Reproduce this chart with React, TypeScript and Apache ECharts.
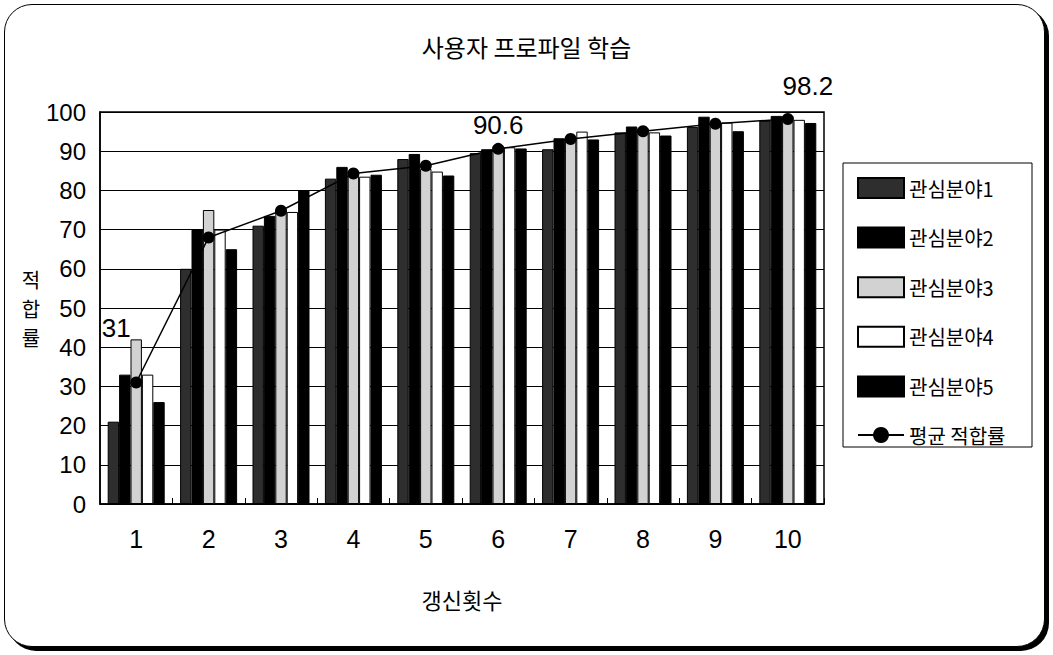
import React, { useEffect, useRef } from "react";
import * as echarts from "echarts";

const categories = ["1", "2", "3", "4", "5", "6", "7", "8", "9", "10"];
const seriesNames = ["관심분야1", "관심분야2", "관심분야3", "관심분야4", "관심분야5"];
const field1 = [21, 60, 71, 83, 88, 89.5, 90.5, 94.8, 96.2, 97.8];
const field2 = [33, 70, 73.5, 86, 89.3, 90.5, 93.3, 96.3, 98.8, 99];
const field3 = [42, 75, 75, 85, 85.5, 91.3, 93.6, 95.8, 97.5, 99];
const field4 = [33, 70, 74.5, 83.5, 84.8, 91, 95, 94.8, 97.3, 98];
const field5 = [26, 65, 80, 84, 83.8, 90.7, 93, 94, 95.1, 97.2];
const average = [31, 68, 74.8, 84.3, 86.3, 90.6, 93.1, 95.1, 97, 98.2];
const labeledPoints = [0, 5, 9];
const avgName = "평균 적합률";
const yTicks = { min: 0, max: 100, interval: 10 };

const KR = "'Noto Sans CJK KR', sans-serif";
const NUM = "'Liberation Sans Narrow', 'Liberation Sans', Arial, sans-serif";

export default function App() {
  const ref = useRef<HTMLDivElement>(null);
  useEffect(() => {
    document.body.style.margin = "0";
    if (!ref.current) return;
    const chart = echarts.init(ref.current, null, { renderer: "svg" });
    const fills = [
      { color: "#2e2e2e", borderColor: "#000", borderWidth: 1 },
      { color: "#000", borderColor: "#000", borderWidth: 1 },
      { color: "#d2d2d2", borderColor: "#000", borderWidth: 1 },
      { color: "#fff", borderColor: "#000", borderWidth: 1 },
      { color: "#000", borderColor: "#000", borderWidth: 1 },
    ];
    const fieldData = [field1, field2, field3, field4, field5];
    const offsets: Record<number, number[]> = { 0: [-20, -30], 5: [0, 0], 9: [20, -9] };
    const barSeries = fieldData.map((d, i) => ({
      name: seriesNames[i],
      type: "bar",
      data: d,
      barWidth: 11.4,
      barGap: "0%",
      itemStyle: fills[i],
    }));
    const lineData = average.map((v, i) =>
      labeledPoints.includes(i)
        ? {
            value: v,
            label: {
              show: true,
              position: "top",
              offset: offsets[i],
              fontSize: 26,
              fontFamily: NUM,
              color: "#000",
            },
          }
        : v
    );
    chart.setOption({
      animation: false,
      backgroundColor: "transparent",
      title: {
        text: "사용자 프로파일 학습",
        left: "center",
        top: 29,
        textStyle: { fontSize: 24, fontWeight: "normal", color: "#000", fontFamily: KR },
      },
      grid: {
        left: 100,
        right: 229,
        top: 112,
        bottom: 151,
        show: true,
        borderColor: "#000",
        borderWidth: 1.5,
        backgroundColor: "transparent",
      },
      legend: {
        orient: "vertical",
        left: 857,
        top: 177,
        itemWidth: 46,
        itemHeight: 20,
        itemGap: 27.6,
        padding: 0,
        data: [
          ...seriesNames.map((n) => ({ name: n, icon: "rect" })),
          { name: avgName },
        ],
        textStyle: { fontSize: 20, color: "#000", fontFamily: KR },
      },
      graphic: [
        {
          type: "rect",
          shape: { x: 843, y: 163, width: 189, height: 284 },
          style: { fill: "none", stroke: "#000", lineWidth: 1 },
        },
      ],
      xAxis: {
        type: "category",
        data: categories,
        name: "갱신횟수",
        nameLocation: "middle",
        nameGap: 84,
        nameTextStyle: { fontSize: 22, color: "#000", fontFamily: KR },
        axisLine: { lineStyle: { color: "#000", width: 1.5 } },
        axisTick: { show: true, inside: true, length: 6, lineStyle: { color: "#000" } },
        axisLabel: { margin: 22, fontSize: 25, color: "#000", fontFamily: NUM },
      },
      yAxis: {
        type: "value",
        min: yTicks.min,
        max: yTicks.max,
        interval: yTicks.interval,
        name: "적\n합\n률",
        nameLocation: "middle",
        nameRotate: 0,
        nameGap: 54,
        nameTextStyle: { fontSize: 20, lineHeight: 29, color: "#000", fontFamily: KR, padding: [24, 0, 0, 0] },
        axisLine: { show: true, lineStyle: { color: "#000", width: 1.5 } },
        axisTick: { show: false },
        axisLabel: { margin: 14, fontSize: 24, color: "#000", fontFamily: NUM },
        splitLine: { show: true, lineStyle: { color: "#000", width: 1 } },
      },
      series: [
        ...barSeries,
        {
          name: avgName,
          type: "line",
          data: lineData,
          symbol: "circle",
          symbolSize: 12,
          itemStyle: { color: "#000" },
          lineStyle: { color: "#000", width: 1.5 },
          z: 5,
        },
      ],
    });
    return () => chart.dispose();
  }, []);
  return (
    <div style={{ position: "relative", width: 1053, height: 655, background: "#fff" }}>
      <div
        style={{
          position: "absolute",
          left: 4,
          top: 4,
          width: 1041,
          height: 643,
          boxSizing: "border-box",
          border: "1.5px solid #000",
          borderRadius: 28,
          boxShadow: "4px 4px 0 #000",
          background: "#fff",
        }}
      />
      <div ref={ref} style={{ position: "absolute", left: 0, top: 0, width: 1053, height: 655 }} />
    </div>
  );
}
